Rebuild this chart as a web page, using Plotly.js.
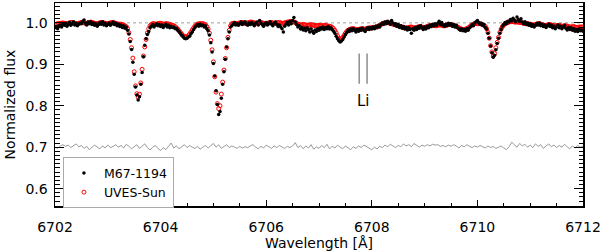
<!DOCTYPE html>
<html><head><meta charset="utf-8">
<script src="https://cdn.plot.ly/plotly-3.0.1.min.js"></script>
<style>html,body{margin:0;padding:0;background:#fff}#plot{width:600px;height:252px}</style>
</head><body><div id="plot"></div>
<script>
// spectrum sampling (start wavelength and step in Angstrom)
const wlStart = 6702.0, wlStep = 0.025;
const resStart = 6702.0, resStep = 0.05;

// UVES solar spectrum (normalized flux)
const sunFlux = [
0.996,0.997,0.998,0.998,0.999,0.999,1.000,0.999,0.998,0.998,
0.999,1.000,1.001,1.001,1.000,0.999,0.998,0.998,0.999,1.000,
1.001,1.001,1.000,0.999,0.999,1.000,1.001,1.002,1.001,1.000,
0.999,0.998,0.998,0.999,1.000,1.001,1.001,1.000,0.999,0.998,
0.998,0.999,1.000,1.001,1.001,1.000,0.999,0.998,0.997,0.997,
0.997,0.996,0.995,0.993,0.991,0.986,0.976,0.960,0.940,0.915,
0.882,0.848,0.829,0.821,0.828,0.855,0.888,0.920,0.942,0.960,
0.976,0.986,0.993,0.996,0.998,0.998,0.997,0.997,0.998,0.999,
0.999,0.998,0.997,0.997,0.998,0.998,0.997,0.996,0.995,0.994,
0.993,0.991,0.988,0.985,0.981,0.977,0.973,0.969,0.967,0.966,
0.967,0.969,0.973,0.978,0.983,0.988,0.992,0.995,0.997,0.998,
0.998,0.998,0.998,0.997,0.995,0.991,0.985,0.975,0.958,0.935,
0.906,0.870,0.833,0.805,0.793,0.800,0.828,0.857,0.886,0.914,
0.940,0.965,0.982,0.993,0.998,0.999,0.999,0.998,0.998,0.999,
1.000,1.001,1.001,1.000,0.999,0.999,1.000,1.001,1.002,1.002,
1.001,1.000,0.999,0.999,1.000,1.001,1.001,1.000,0.999,0.998,
0.998,0.999,1.000,1.001,1.001,1.000,0.999,0.999,1.000,1.001,
1.001,1.000,0.999,0.999,1.000,1.001,1.002,1.002,1.003,1.003,
1.003,1.002,1.001,0.999,0.997,0.996,0.995,0.995,0.996,0.996,
0.995,0.994,0.994,0.995,0.996,0.995,0.994,0.993,0.993,0.994,
0.994,0.994,0.993,0.993,0.994,0.994,0.993,0.992,0.992,0.991,
0.989,0.986,0.982,0.976,0.969,0.963,0.960,0.961,0.965,0.970,
0.975,0.979,0.982,0.984,0.985,0.986,0.986,0.985,0.984,0.984,
0.984,0.985,0.986,0.986,0.985,0.985,0.986,0.987,0.988,0.988,
0.988,0.989,0.989,0.990,0.991,0.992,0.994,0.996,0.998,0.999,
1.000,1.001,1.001,1.000,0.999,0.998,0.997,0.996,0.995,0.994,
0.993,0.992,0.991,0.990,0.989,0.988,0.988,0.988,0.989,0.990,
0.990,0.989,0.988,0.988,0.989,0.990,0.991,0.991,0.990,0.989,
0.989,0.990,0.991,0.992,0.993,0.993,0.994,0.994,0.993,0.993,
0.994,0.995,0.995,0.994,0.993,0.993,0.994,0.995,0.996,0.996,
0.996,0.995,0.994,0.993,0.992,0.990,0.988,0.986,0.985,0.984,
0.984,0.985,0.986,0.988,0.990,0.993,0.995,0.997,0.998,0.998,
0.998,0.998,0.998,0.997,0.996,0.994,0.991,0.986,0.977,0.963,
0.945,0.930,0.920,0.926,0.940,0.953,0.965,0.977,0.985,0.991,
0.995,0.998,1.000,1.001,1.002,1.003,1.003,1.003,1.002,1.002,
1.002,1.002,1.001,1.001,1.000,0.999,0.999,0.998,0.998,0.997,
0.997,0.996,0.995,0.995,0.996,0.997,0.998,0.998,0.997,0.996,
0.995,0.994,0.994,0.995,0.996,0.996,0.995,0.994,0.993,0.993,
0.993,0.994,0.994,0.993,0.992,0.992,0.993,0.993,0.992,0.991,
0.990,0.990,0.991,0.991,0.990,0.989,0.989,0.990,0.990,0.990,
0.990];

// M67-1194 spectrum (normalized flux)
const starFlux = [
0.988,0.991,0.986,0.993,0.995,0.990,0.997,0.994,0.999,0.992,
0.996,1.001,0.994,0.998,1.003,0.995,0.999,0.993,0.997,1.000,
0.998,1.004,1.007,0.999,0.995,1.002,0.998,1.003,0.996,1.000,
0.994,0.998,0.992,0.996,1.001,0.997,1.003,0.995,0.999,0.993,
0.996,1.000,0.994,0.998,1.002,0.996,0.999,0.993,0.997,0.991,
0.995,0.989,0.993,0.987,0.990,0.982,0.973,0.955,0.936,0.905,
0.876,0.845,0.826,0.814,0.822,0.852,0.880,0.918,0.946,0.962,
0.972,0.979,0.988,0.992,0.996,0.990,0.994,0.998,0.993,0.996,
0.991,0.995,0.989,0.993,0.997,0.990,0.994,0.988,0.992,0.989,
0.990,0.986,0.987,0.982,0.979,0.975,0.970,0.967,0.963,0.962,
0.963,0.966,0.968,0.974,0.978,0.984,0.989,0.993,0.996,0.992,
0.997,0.993,0.995,0.990,0.993,0.986,0.981,0.971,0.952,0.930,
0.902,0.872,0.836,0.803,0.779,0.786,0.818,0.852,0.882,0.912,
0.942,0.962,0.978,0.990,0.993,0.997,1.001,0.995,0.998,0.994,
0.998,1.002,0.996,0.999,1.003,0.997,0.994,1.000,0.996,1.001,
0.997,0.993,0.999,1.002,0.995,1.006,1.000,0.996,0.992,0.998,
1.001,0.995,0.998,1.003,0.997,0.993,0.999,1.002,0.996,0.991,
0.995,0.990,0.986,0.978,0.992,0.997,1.001,0.995,1.004,0.998,
1.006,1.013,1.002,0.996,0.990,0.993,0.985,0.989,0.983,0.987,
0.981,0.988,0.984,0.978,0.986,0.980,0.975,0.983,0.979,0.986,
0.982,0.988,0.985,0.990,0.984,0.989,0.986,0.991,0.985,0.988,
0.984,0.980,0.975,0.968,0.962,0.957,0.954,0.956,0.960,0.966,
0.972,0.977,0.983,0.979,0.985,0.981,0.986,0.982,0.978,0.984,
0.980,0.986,0.982,0.987,0.983,0.979,0.985,0.989,0.984,0.988,
0.985,0.990,0.986,0.992,0.988,0.994,0.990,0.996,1.000,0.997,
1.002,0.998,1.004,1.001,0.997,1.006,1.000,0.995,0.998,0.992,
0.996,0.989,0.993,0.987,0.991,0.985,0.989,0.983,0.988,0.984,
0.975,0.986,0.982,0.989,0.984,0.991,0.987,0.993,0.988,0.984,
0.990,0.985,0.992,0.988,0.995,0.991,0.997,0.993,0.998,0.994,
0.999,1.004,0.996,1.001,0.995,0.991,0.997,0.993,0.999,0.995,
0.998,0.992,0.996,0.990,0.994,0.988,0.985,0.982,0.986,0.981,
0.984,0.980,0.986,0.982,0.988,0.991,0.996,0.993,1.000,1.003,
1.006,1.001,0.997,0.999,0.994,0.996,0.989,0.985,0.975,0.963,
0.944,0.928,0.917,0.922,0.935,0.950,0.963,0.975,0.984,0.992,
0.996,1.001,0.998,1.004,1.002,1.008,1.005,1.011,1.007,1.003,
1.014,1.008,1.004,1.010,1.002,0.998,1.003,0.996,1.000,0.994,
0.998,0.992,0.996,0.990,0.994,0.999,0.995,1.000,0.993,0.997,
0.991,0.995,0.989,0.993,0.997,0.991,0.995,0.988,0.992,0.986,
0.990,0.995,0.988,0.992,0.986,0.990,0.994,0.987,0.983,0.989,
0.984,0.988,0.982,0.986,0.980,0.984,0.979,0.985,0.981,0.983,
0.980];

// difference spectrum, offset to 0.7
const residual = [
0.700,0.697,0.703,0.706,0.702,0.705,0.699,0.703,0.708,0.701,
0.704,0.697,0.702,0.694,0.699,0.705,0.700,0.696,0.703,0.698,
0.705,0.699,0.702,0.706,0.700,0.704,0.698,0.707,0.702,0.696,
0.701,0.706,0.697,0.703,0.708,0.699,0.693,0.700,0.704,0.697,
0.692,0.699,0.694,0.702,0.710,0.698,0.703,0.696,0.701,0.706,
0.699,0.704,0.700,0.697,0.702,0.695,0.700,0.704,0.698,0.703,
0.709,0.700,0.706,0.697,0.702,0.706,0.699,0.703,0.700,0.697,
0.702,0.698,0.701,0.699,0.703,0.706,0.700,0.696,0.702,0.698,
0.705,0.700,0.697,0.703,0.699,0.704,0.701,0.697,0.702,0.699,
0.703,0.711,0.699,0.704,0.696,0.703,0.698,0.706,0.695,0.701,
0.697,0.704,0.699,0.707,0.696,0.702,0.698,0.705,0.700,0.696,
0.703,0.699,0.694,0.701,0.697,0.703,0.699,0.705,0.701,0.697,
0.694,0.700,0.696,0.702,0.699,0.705,0.701,0.707,0.703,0.699,
0.704,0.701,0.708,0.703,0.706,0.701,0.709,0.704,0.700,0.705,
0.702,0.706,0.703,0.707,0.705,0.706,0.702,0.704,0.701,0.705,
0.702,0.706,0.703,0.698,0.704,0.701,0.706,0.702,0.699,0.703,
0.700,0.704,0.701,0.698,0.703,0.699,0.702,0.697,0.700,0.703,
0.698,0.694,0.701,0.712,0.706,0.700,0.709,0.703,0.707,0.700,
0.705,0.699,0.708,0.702,0.706,0.697,0.703,0.708,0.701,0.705,
0.699,0.704,0.700,0.707,0.701,0.696,0.703,0.698,0.704,0.700,
0.702];

// Li doublet marker
const liWave = [6707.76, 6707.91];
const liFlux = [0.853, 0.926];
const liLabel = 'Li';

const xTickVals = [6702, 6704, 6706, 6708, 6710, 6712];
const xTickText = ['6702', '6704', '6706', '6708', '6710', '6712'];
const yTickVals = [0.6, 0.7, 0.8, 0.9, 1.0];
const yTickText = ['0.6', '0.7', '0.8', '0.9', '1.0'];
const seriesNames = ['M67-1194', 'UVES-Sun'];

const wave = sunFlux.map((_, i) => +(wlStart + i * wlStep).toFixed(3));
const resWave = residual.map((_, i) => +(resStart + i * resStep).toFixed(3));

const liX = [], liY = [];
liWave.forEach(w => { liX.push(w, w, null); liY.push(liFlux[0], liFlux[1], null); });

const traces = [
  {x: resWave, y: residual, mode: 'lines', line: {color: '#999', width: 1}, showlegend: false, hoverinfo: 'skip'},
  {x: liX, y: liY, mode: 'lines', line: {color: '#555', width: 1}, showlegend: false, hoverinfo: 'skip'},
  {x: wave, y: sunFlux, mode: 'markers', name: seriesNames[1],
   marker: {symbol: 'circle-open', color: '#ff0000', size: 4, line: {width: 1, color: '#ff0000'}}},
  {x: wave, y: starFlux, mode: 'markers', name: seriesNames[0],
   marker: {symbol: 'circle', color: '#000', size: 3.5}}
];

const layout = {
  width: 600, height: 252,
  margin: {l: 55, r: 17, t: 3, b: 46},
  paper_bgcolor: '#fff', plot_bgcolor: '#fff',
  font: {family: 'DejaVu Sans, sans-serif', size: 14, color: '#000'},
  showlegend: true,
  xaxis: {
    range: [6702, 6712], tickmode: 'array', tickvals: xTickVals, ticktext: xTickText,
    ticks: 'inside', ticklen: 6, tickwidth: 1, tickcolor: '#000',
    showline: true, linecolor: '#000', linewidth: 1.5, mirror: 'allticks',
    showgrid: false, zeroline: false, ticklabeloverflow: 'allow',
    minor: {dtick: 0.5, tick0: 6702, ticks: 'inside', ticklen: 3.5, tickwidth: 1, tickcolor: '#000', showgrid: false},
    title: {text: 'Wavelength [Å]', font: {size: 14}, standoff: 4},
    automargin: false, ticklabelstandoff: 8
  },
  yaxis: {
    range: [0.558, 1.048], tickmode: 'array', tickvals: yTickVals, ticktext: yTickText,
    ticks: 'inside', ticklen: 9, tickwidth: 1, tickcolor: '#000',
    showline: true, linecolor: '#000', linewidth: 1.5, mirror: 'allticks',
    showgrid: false, zeroline: false,
    minor: {dtick: 0.01, tick0: 0, ticks: 'inside', ticklen: 4.5, tickwidth: 1, tickcolor: '#000', showgrid: false},
    title: {text: 'Normalized flux', font: {size: 14}, standoff: 6},
    automargin: false, ticklabelstandoff: 3
  },
  shapes: [
    {type: 'line', xref: 'x', yref: 'y', x0: 6702, x1: 6712, y0: 1.0, y1: 1.0,
     line: {color: '#9a9a9a', width: 1, dash: 'dot'}, layer: 'below'}
  ],
  annotations: [
    {x: (liWave[0] + liWave[1]) / 2, y: 0.812, xref: 'x', yref: 'y', text: liLabel,
     showarrow: false, font: {size: 15, color: '#000'}}
  ],
  legend: {
    x: 0.015, y: 0.24, xanchor: 'left', yanchor: 'top',
    bgcolor: '#fff', bordercolor: '#aaa', borderwidth: 1,
    traceorder: 'reversed', font: {size: 12.5}, itemwidth: 30
  }
};

Plotly.newPlot('plot', traces, layout, {displayModeBar: false, staticPlot: true});
</script>
</body></html>
